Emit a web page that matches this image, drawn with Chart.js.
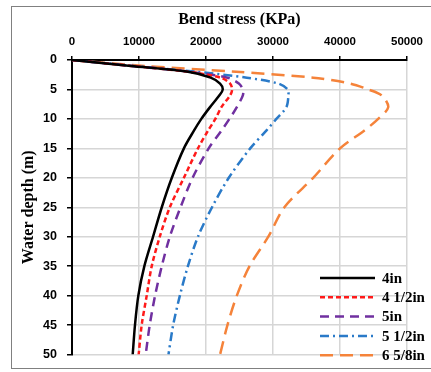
<!DOCTYPE html>
<html lang="en">
<head>
    <meta charset="UTF-8">
    <title>Bend stress vs water depth</title>
    <style>
        body {
            margin: 0;
            background-color: white;
        }
        .frame {
            position: absolute;
            left: 11px;
            top: 6px;
            width: 430px;
            height: 361px;
            border: 1px solid #808080;
            pointer-events: none;
        }
        .wrap {
            position: absolute;
            left: 0;
            top: 0;
            width: 431px;
            height: 372px;
        }
    </style>
</head>
<body>
    <div class="wrap"><canvas id="chart" width="431" height="372"></canvas></div>
    <div class="frame"></div>

    <script src="https://cdn.jsdelivr.net/npm/chart.js"></script>
    <script>
        // depth (m) shared by all curves
        const depths = [0, 1, 2, 3, 4, 5, 6, 8, 10, 12, 15, 20, 25, 30, 35, 40, 45, 50];

        // bend stress (KPa)
        const stress4in   = [0, 8800, 17300, 20700, 22100, 22500, 22000, 20600, 19300, 18200, 16700, 14900, 13400, 12100, 10800, 9900, 9400, 9060];
        const stress412in = [0, 8800, 17400, 22200, 23600, 23900, 23600, 22300, 21400, 20300, 18800, 16700, 14600, 13100, 11900, 11150, 10400, 9950];
        const stress5in   = [0, 8800, 17500, 23200, 24900, 25500, 25500, 24600, 23500, 22300, 20400, 18000, 16200, 14600, 13400, 12400, 11600, 11000];
        const stress512in = [0, 9200, 18600, 26100, 30800, 32200, 32300, 32000, 30500, 29000, 26600, 23400, 20900, 18800, 17300, 16100, 15100, 14400];
        const stress658in = [0, 10800, 24500, 36000, 41500, 44200, 46200, 47200, 45700, 43600, 40000, 36000, 31700, 29300, 26500, 24600, 23200, 22100];

        const seriesLabels = ['4in', '4 1/2in', '5in', '5 1/2in', '6 5/8in'];
        const seriesValues = [stress4in, stress412in, stress5in, stress512in, stress658in];
        const seriesColors = ['#000000', '#ff1a1a', '#7030a0', '#2a7ac8', '#f5833a'];
        const seriesDash = [[], [5, 3], [9, 6], [9, 4, 2, 4], [13, 7]];

        const serif = '"Liberation Serif", "Times New Roman", serif';
        const sans = '"Liberation Sans", Arial, sans-serif';

        function toPoints(values) {
            return values.map((v, i) => ({ x: v, y: depths[i] }));
        }

        // legend drawn inside the plot, bottom right
        const insideLegend = {
            id: 'insideLegend',
            afterDatasetsDraw(chart) {
                const c = chart.ctx;
                const x0 = 320, x1 = 375, tx = 382;
                let y = 278;
                chart.data.datasets.forEach(ds => {
                    c.save();
                    c.strokeStyle = ds.borderColor;
                    c.lineWidth = ds.borderWidth;
                    c.setLineDash(ds.borderDash);
                    c.beginPath();
                    c.moveTo(x0, y);
                    c.lineTo(x1, y);
                    c.stroke();
                    c.setLineDash([]);
                    c.fillStyle = '#000';
                    c.font = 'bold 15px ' + serif;
                    c.textBaseline = 'middle';
                    c.fillText(ds.label, tx, y + 1);
                    c.restore();
                    y += 19.3;
                });
            }
        };

        const ctx = document.getElementById('chart').getContext('2d');
        const chart = new Chart(ctx, {
            type: 'scatter',
            data: {
                datasets: seriesLabels.map((label, i) => ({
                    label: label,
                    data: toPoints(seriesValues[i]),
                    showLine: true,
                    borderColor: seriesColors[i],
                    backgroundColor: seriesColors[i],
                    borderWidth: 2.5,
                    borderDash: seriesDash[i],
                    pointRadius: 0,
                    tension: 0.3,
                    fill: false
                }))
            },
            options: {
                responsive: false,
                animation: false,
                layout: {
                    padding: { left: 0, top: 0, right: 24, bottom: 11 }
                },
                plugins: {
                    legend: { display: false },
                    tooltip: { enabled: false }
                },
                scales: {
                    x: {
                        type: 'linear',
                        position: 'top',
                        min: 0,
                        max: 50000,
                        ticks: {
                            stepSize: 10000,
                            padding: 7,
                            color: '#000',
                            font: { family: sans, size: 11.5, weight: 'bold' },
                            callback: v => String(v)
                        },
                        grid: {
                            color: '#d6d6d6',
                            lineWidth: 1.5,
                            tickLength: 4,
                            tickColor: '#000'
                        },
                        border: { color: '#000', width: 2 },
                        title: {
                            display: true,
                            text: 'Bend stress (KPa)',
                            color: '#000',
                            padding: { top: 10, bottom: 0 },
                            font: { family: serif, size: 16, weight: 'bold' }
                        },
                        afterFit(scale) { scale.height = 60; }
                    },
                    y: {
                        type: 'linear',
                        reverse: true,
                        min: 0,
                        max: 50,
                        ticks: {
                            stepSize: 5,
                            padding: 10,
                            color: '#000',
                            font: { family: sans, size: 12.5, weight: 'bold' },
                            callback: v => String(v)
                        },
                        grid: {
                            color: '#d6d6d6',
                            lineWidth: 1.5,
                            tickLength: 5,
                            tickColor: '#000'
                        },
                        border: { color: '#000', width: 2 },
                        title: {
                            display: true,
                            text: 'Water depth (m)',
                            color: '#000',
                            padding: { top: 19, bottom: 0 },
                            font: { family: serif, size: 16, weight: 'bold' }
                        },
                        afterFit(scale) { scale.width = 72; }
                    }
                }
            },
            plugins: [insideLegend]
        });
    </script>
</body>
</html>
